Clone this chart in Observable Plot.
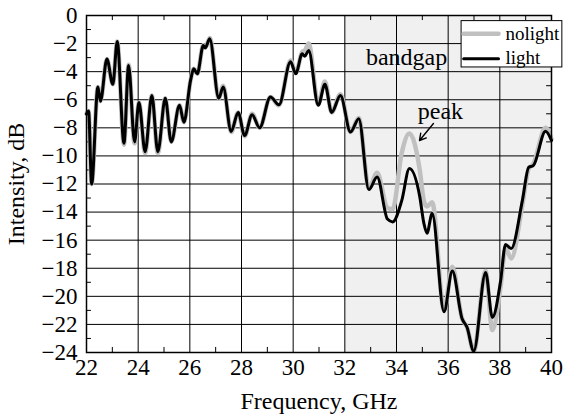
<!DOCTYPE html>
<html>
<head>
<meta charset="utf-8">
<script src="https://cdn.jsdelivr.net/npm/d3@7"></script>
<script src="https://cdn.jsdelivr.net/npm/@observablehq/plot@0.6"></script>
<style>
  html, body { margin: 0; padding: 0; background: white; }
</style>
</head>
<body>
<div id="chart"></div>
<script>
const freq = [22.00,22.08,22.20,22.44,22.54,22.79,23.02,23.19,23.45,23.63,23.86,24.03,24.27,24.53,24.76,25.05,25.28,25.60,25.77,26.03,26.15,26.29,26.52,26.60,26.77,27.12,27.29,27.60,27.87,28.12,28.41,28.70,29.12,29.45,29.90,30.10,30.35,30.45,30.60,30.97,31.23,31.49,31.83,32.22,32.54,32.93,33.25,33.65,33.85,34.20,34.50,34.90,35.06,35.18,35.38,35.84,36.16,36.54,36.73,36.99,37.45,37.71,38.03,38.22,38.44,38.87,39.12,39.29,39.77,40.00];
const light = [-7.0,-6.8,-12.0,-5.1,-6.1,-3.1,-4.9,-1.85,-9.1,-3.56,-9.0,-6.2,-9.7,-5.7,-9.7,-5.9,-9.0,-6.4,-7.6,-4.6,-3.8,-4.15,-2.14,-2.3,-1.66,-5.9,-5.1,-8.26,-6.9,-8.55,-7.07,-8.0,-5.8,-6.36,-3.3,-4.15,-2.73,-2.9,-2.5,-6.4,-4.9,-6.9,-5.7,-8.3,-7.36,-12.4,-11.5,-14.5,-14.7,-13.2,-10.9,-12.9,-14.8,-15.5,-14.1,-21.1,-18.2,-21.6,-22.2,-23.9,-18.3,-21.5,-18.9,-16.3,-16.6,-13.2,-10.8,-10.7,-8.24,-8.9];
const nolight = [-7.0,-6.8,-12.0,-5.1,-6.1,-3.1,-4.9,-1.85,-9.2,-3.5,-9.1,-6.2,-9.8,-5.7,-9.8,-5.9,-9.0,-6.4,-7.6,-4.6,-3.8,-4.15,-2.1,-2.3,-1.6,-5.9,-5.0,-8.3,-6.9,-8.6,-7.0,-8.0,-5.8,-6.4,-3.2,-4.1,-2.6,-2.5,-2.0,-6.3,-4.7,-6.9,-5.6,-8.3,-7.3,-12.3,-11.2,-13.7,-13.8,-9.8,-8.4,-11.0,-13.2,-13.6,-13.3,-21.0,-17.9,-21.6,-22.2,-23.9,-18.2,-22.4,-19.3,-16.6,-17.3,-13.5,-10.9,-10.6,-8.0,-8.8];

const xTicks = [22,24,26,28,30,32,34,36,38,40];
const yTicks = [0,-2,-4,-6,-8,-10,-12,-14,-16,-18,-20,-22,-24];
const xMinor = [23,25,27,29,31,33,35,37,39];
const yMinor = [-1,-3,-5,-7,-9,-11,-13,-15,-17,-19,-21,-23];
const bandgap = [{from: 32, to: 40}];
const seriesNames = ["nolight", "light"];

const rowsLight = freq.map((f, i) => ({f, v: light[i]}));
const rowsNolight = freq.map((f, i) => ({f, v: nolight[i]}));

const ink = "#000";
const grayLine = "#c0c0c0";

const chart = Plot.plot({
  width: 565,
  height: 417,
  marginLeft: 86,
  marginRight: 14,
  marginTop: 15,
  marginBottom: 65,
  style: {fontFamily: "'Liberation Serif', 'Times New Roman', serif", fontSize: "23px", background: "white", color: "black"},
  x: {domain: [22, 40], ticks: xTicks},
  y: {domain: [-24, 0], ticks: yTicks},
  marks: [
    Plot.rect(bandgap, {x1: "from", x2: "to", y1: -24, y2: 0, fill: "#f0f0f0"}),
    Plot.gridX(xTicks, {stroke: ink, strokeOpacity: 1, strokeWidth: 1}),
    Plot.gridY(yTicks, {stroke: ink, strokeOpacity: 1, strokeWidth: 1}),
    // minor inward ticks on all four sides
    Plot.ruleX(xMinor, {x: d => d, y1: -24, y2: -23.64, stroke: ink, strokeWidth: 1}),
    Plot.ruleX(xMinor, {x: d => d, y1: 0, y2: -0.36, stroke: ink, strokeWidth: 1}),
    Plot.ruleY(yMinor, {y: d => d, x1: 22, x2: 22.19, stroke: ink, strokeWidth: 1}),
    Plot.ruleY(yMinor, {y: d => d, x1: 40, x2: 39.81, stroke: ink, strokeWidth: 1}),
    Plot.axisX(xTicks, {tickSize: 0, tickPadding: 6, fontSize: 23, label: null}),
    Plot.axisY(yTicks, {tickSize: 0, tickPadding: 9, fontSize: 23, label: null, tickFormat: d => (d < 0 ? "\u2212" + (-d) : String(d))}),
    Plot.axisX({label: "Frequency, GHz", ticks: [], tickSize: 0, labelAnchor: "center", labelArrow: "none", labelOffset: 56, fontSize: 24}),
    Plot.axisY({label: "Intensity, dB", ticks: [], tickSize: 0, labelAnchor: "center", labelArrow: "none", labelOffset: 80, fontSize: 24}),
    Plot.line(rowsNolight, {x: "f", y: "v", stroke: grayLine, strokeWidth: 4.5, curve: "monotone-x"}),
    Plot.line(rowsLight, {x: "f", y: "v", stroke: ink, strokeWidth: 3, curve: "monotone-x"}),
    Plot.frame({stroke: ink, strokeWidth: 1.5}),
    // annotations
    Plot.text(["bandgap"], {x: 34.39, y: -3.0, text: d => d, fontSize: 24, fill: ink}),
    Plot.text(["peak"], {x: 35.7, y: -6.79, text: d => d, fontSize: 24, fill: ink}),
    Plot.arrow([{}], {x1: 35.43, y1: -7.69, x2: 34.89, y2: -8.9, stroke: ink, strokeWidth: 1.4, headLength: 8}),
    // legend
    Plot.rect([{}], {x1: 36.52, x2: 40.42, y1: -0.4, y2: -3.7, fill: "white", stroke: ink, strokeWidth: 1, clip: false}),
    Plot.line([{f: 36.6, v: -1.3}, {f: 37.95, v: -1.3}], {x: "f", y: "v", stroke: grayLine, strokeWidth: 4.5}),
    Plot.line([{f: 36.6, v: -3.08}, {f: 37.95, v: -3.08}], {x: "f", y: "v", stroke: ink, strokeWidth: 3}),
    Plot.text([seriesNames[0]], {x: 38.22, y: -1.28, text: d => d, textAnchor: "start", fontSize: 19, fill: ink}),
    Plot.text([seriesNames[1]], {x: 38.22, y: -3.0, text: d => d, textAnchor: "start", fontSize: 19, fill: ink})
  ]
});
document.getElementById("chart").appendChild(chart);
</script>
</body>
</html>
